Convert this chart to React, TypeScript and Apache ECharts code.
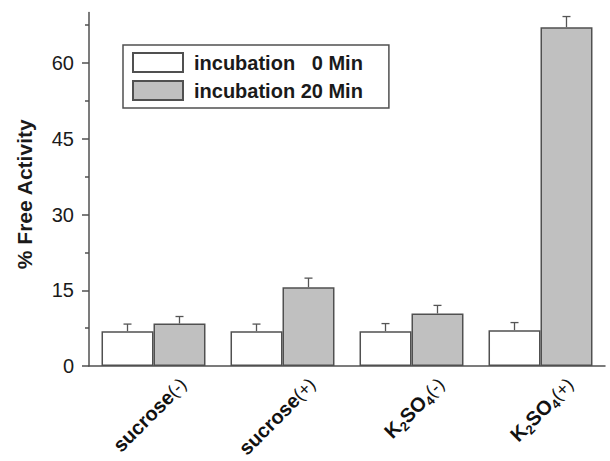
import React, { useEffect, useRef } from "react";
import * as echarts from "echarts";

const categories = ["sucrose(-)", "sucrose(+)", "K2SO4(-)", "K2SO4(+)"];
const seriesNames = ["incubation\u00A0\u00A0\u00A00 Min", "incubation 20 Min"];
const values0 = [6.9, 6.9, 6.9, 7.1];
const errors0 = [1.4, 1.4, 1.5, 1.5];
const values20 = [8.4, 15.6, 10.4, 67.1];
const errors20 = [1.4, 1.8, 1.6, 2.1];
const majorTicks = [0, 15, 30, 45, 60];
const minorTicks = [7.5, 22.5, 37.5, 52.5, 67.5];

const FONT = "'Liberation Sans', Arial, Helvetica, sans-serif";
const BAR_FRAC = 0.403;
const EDGE = "#505050";

function richLabel(name: string): string {
  const m = name.match(/^(.*?)(\(.\))$/);
  const main = m ? m[1] : name;
  const sign = m ? m[2] : "";
  const mainRich = main.replace(/([A-Za-z]+)|(\d+)/g, (t: string, a: string, d: string) =>
    a ? `{b|${a}}` : `{s|${d}}`
  );
  return mainRich + (sign ? `{p|${sign}}` : "");
}

export default function App() {
  const ref = useRef<HTMLDivElement>(null);
  useEffect(() => {
    if (!ref.current) return;
    const chart = echarts.init(ref.current, null, { renderer: "svg" });
    const errData: number[][] = [];
    values0.forEach((v, i) => errData.push([i, v, errors0[i], -1]));
    values20.forEach((v, i) => errData.push([i, v, errors20[i], 1]));

    chart.setOption({
      animation: false,
      backgroundColor: "#ffffff",
      textStyle: { fontFamily: FONT },
      grid: { left: 89, right: 5, top: 12.5, bottom: 95, containLabel: false, outerBoundsMode: "none" },
      legend: {
        data: seriesNames,
        orient: "vertical",
        left: 123,
        top: 45,
        padding: [7, 26, 7, 9],
        itemGap: 7,
        itemWidth: 50,
        itemHeight: 19,
        icon: "rect",
        borderColor: EDGE,
        borderWidth: 1.5,
        backgroundColor: "#fff",
        textStyle: {
          fontFamily: FONT,
          fontSize: 20,
          fontWeight: "bold",
          color: "#1a1a1a",
          padding: [0, 0, 0, 6],
        },
      },
      xAxis: {
        type: "category",
        data: categories,
        axisLine: { lineStyle: { color: EDGE, width: 1.5 } },
        axisTick: { show: false },
        axisLabel: {
          interval: 0,
          rotate: 45,
          margin: 45,
          padding: [0, -42, 0, 0],
          color: "#111",
          formatter: (v: string) => richLabel(v),
          rich: {
            b: { fontSize: 20, fontWeight: "bold", color: "#111", lineHeight: 22, fontFamily: FONT },
            s: { fontSize: 13, fontWeight: "bold", color: "#111", lineHeight: 13, padding: [12, 0, 0, 0], fontFamily: FONT },
            p: { fontSize: 18, fontWeight: "normal", color: "#111", lineHeight: 22, fontFamily: FONT },
          },
        },
      },
      yAxis: [
        {
          type: "value",
          min: 0,
          max: 70,
          interval: 15,
          name: "% Free Activity",
          nameLocation: "middle",
          nameGap: 54,
          nameTextStyle: { fontFamily: FONT, fontSize: 21, fontWeight: "bold", color: "#1a1a1a", padding: [0, 10, 0, 0] },
          axisLine: { show: true, lineStyle: { color: EDGE, width: 1.5 } },
          axisTick: { show: true, length: 7, customValues: majorTicks, lineStyle: { color: EDGE, width: 1.5 } },
          axisLabel: { customValues: majorTicks, fontSize: 20, color: "#1a1a1a", margin: 15, fontFamily: FONT },
          splitLine: { show: false },
        },
        {
          type: "value",
          min: 0,
          max: 70,
          interval: 15,
          position: "left",
          axisLine: { show: false },
          axisTick: { show: true, length: 4, customValues: minorTicks, lineStyle: { color: EDGE, width: 1.5 } },
          axisLabel: { show: false },
          splitLine: { show: false },
        },
      ],
      series: [
        {
          name: seriesNames[0],
          type: "bar",
          data: values0,
          barWidth: (BAR_FRAC * 100).toFixed(1) + "%",
          barGap: "0%",
          itemStyle: { color: "#ffffff", borderColor: EDGE, borderWidth: 1.5 },
        },
        {
          name: seriesNames[1],
          type: "bar",
          data: values20,
          barWidth: (BAR_FRAC * 100).toFixed(1) + "%",
          barGap: "0%",
          itemStyle: { color: "#c0c0c0", borderColor: EDGE, borderWidth: 1.5 },
        },
        {
          type: "custom",
          name: "err",
          data: errData,
          encode: { x: 0, y: 1 },
          z: 5,
          renderItem: (params: any, api: any) => {
            const i = api.value(0);
            const v = api.value(1);
            const e = api.value(2);
            const side = api.value(3);
            const base = api.coord([i, v]);
            const top = api.coord([i, v + e]);
            const cw = api.size([1, 0])[0];
            const x = base[0] + (side * cw * BAR_FRAC) / 2;
            const st = { stroke: "#555", lineWidth: 1.3 };
            return {
              type: "group",
              children: [
                { type: "line", shape: { x1: x, y1: base[1], x2: x, y2: top[1] }, style: st },
                { type: "line", shape: { x1: x - 4, y1: top[1], x2: x + 4, y2: top[1] }, style: st },
              ],
            };
          },
        },
      ],
    });
    return () => chart.dispose();
  }, []);
  return (
    <div
      ref={ref}
      style={{ position: "fixed", left: 0, top: 0, width: 610, height: 461, background: "#fff" }}
    />
  );
}
